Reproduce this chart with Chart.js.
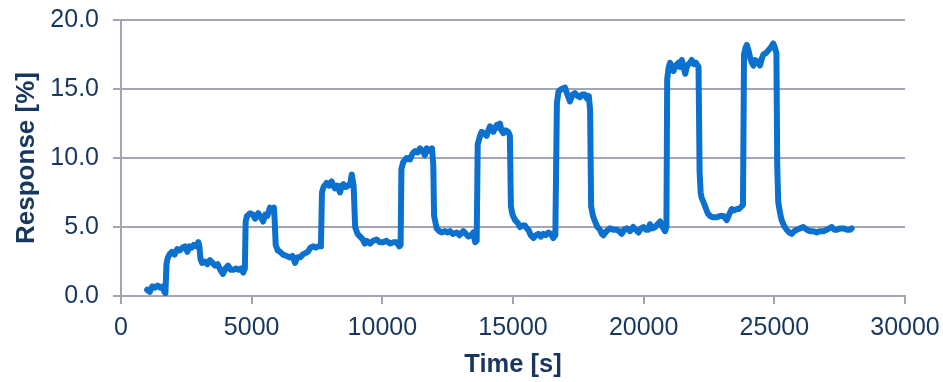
<!DOCTYPE html>
<html>
<head>
<meta charset="utf-8">
<script src="https://cdn.jsdelivr.net/npm/chart.js@4.4.1/dist/chart.umd.min.js"></script>
<style>
  html, body { margin: 0; padding: 0; background: #ffffff; }
  #c { display: block; }
</style>
</head>
<body>
<canvas id="c" width="943" height="382"></canvas>
<script>
// ---- Data ----
const timeSeconds = [
  1000,1100,1200,1300,1400,1500,1600,1660,1700,1740,1780,1850,1950,2050,2150,2250,2350,2450,2540,2620,
  2700,2780,2880,2960,3000,3040,3100,3200,3300,3400,3500,3600,3700,3800,3900,4000,4100,4200,4300,4400,
  4500,4600,4680,4740,4770,4820,4940,5050,5130,5250,5350,5440,5520,5600,5700,5780,5850,5880,5920,6000,
  6090,6200,6340,6450,6560,6660,6750,6850,6950,7050,7150,7250,7350,7450,7550,7650,7690,7750,7870,7960,
  8060,8150,8190,8280,8380,8450,8510,8600,8700,8780,8830,8900,8960,9050,9150,9250,9330,9400,9530,9650,
  9780,9900,10030,10150,10300,10420,10550,10650,10700,10730,10800,10930,11060,11150,11250,11350,11440,11540,11630,11700,
  11760,11850,11900,11950,11980,12080,12180,12270,12400,12500,12590,12700,12850,12950,13100,13200,13290,13400,13480,13550,
  13610,13650,13740,13800,13890,13990,14060,14120,14200,14250,14320,14380,14450,14500,14560,14630,14720,14820,14880,14920,
  14980,15080,15180,15270,15360,15460,15530,15590,15680,15780,15870,15970,16060,16160,16250,16350,16450,16540,16620,16680,
  16740,16850,16990,17080,17180,17280,17370,17470,17560,17650,17750,17830,17900,17950,17990,18060,18140,18230,18330,18400,
  18460,18580,18710,18840,18970,19060,19160,19250,19350,19480,19600,19700,19800,19900,19990,20100,20180,20240,20340,20440,
  20530,20630,20720,20820,20870,20900,20950,21010,21080,21140,21230,21330,21400,21460,21530,21590,21650,21710,21780,21840,
  21920,22000,22100,22140,22180,22220,22290,22350,22450,22540,22650,22800,22920,23050,23180,23270,23370,23460,23560,23650,
  23750,23800,23840,23900,23950,24010,24070,24140,24200,24270,24330,24400,24450,24520,24580,24680,24770,24860,24960,25020,
  25080,25110,25150,25220,25280,25370,25470,25570,25670,25760,25860,25980,26110,26240,26370,26500,26620,26750,26880,27000,
  27100,27200,27300,27390,27520,27650,27780,27900,27960
];
const responsePct = [
  0.45,0.3,0.7,0.6,0.75,0.6,0.7,0.3,0.2,2.3,2.7,3.0,3.2,3.0,3.4,3.3,3.5,3.6,3.2,3.6,
  3.5,3.7,3.6,3.9,3.6,2.7,2.4,2.5,2.3,2.6,2.4,2.2,2.3,1.9,1.6,2.0,2.2,1.9,1.9,2.0,
  1.9,2.0,1.7,2.0,5.4,5.8,6.0,5.9,5.6,6.0,5.7,5.4,5.9,5.8,6.4,6.3,6.4,5.5,3.7,3.3,
  3.2,3.0,2.9,2.8,2.9,2.4,2.8,2.8,3.0,3.1,3.2,3.5,3.6,3.5,3.6,3.6,7.5,7.9,8.2,8.0,
  8.3,7.9,7.8,8.0,7.5,8.0,8.1,7.9,8.0,8.2,8.8,8.0,5.0,4.5,4.3,4.1,3.8,4.0,3.8,4.0,
  4.1,3.9,3.9,4.0,3.8,3.9,3.9,3.6,3.7,9.2,9.7,10.0,9.9,10.3,10.5,10.4,10.7,10.5,10.2,10.7,
  10.6,10.5,10.7,9.5,5.8,4.9,4.7,4.6,4.7,4.6,4.7,4.5,4.6,4.4,4.7,4.5,4.3,4.4,4.6,3.9,
  4.0,11.0,11.6,11.9,11.8,11.6,12.0,12.3,12.1,11.9,12.2,12.4,12.2,12.5,12.0,11.8,12.0,11.9,11.6,6.5,
  5.9,5.5,5.3,5.0,5.1,5.1,4.9,4.8,4.4,4.2,4.4,4.5,4.3,4.5,4.4,4.6,4.5,4.2,4.4,14.0,
  14.8,15.0,15.1,14.6,14.1,14.6,14.7,14.5,14.4,14.6,14.6,14.3,14.5,13.5,6.5,5.8,5.4,5.0,4.8,4.5,
  4.4,4.7,4.9,4.8,4.8,4.7,4.5,4.8,4.9,4.7,5.0,4.8,4.6,4.9,5.0,4.8,4.8,5.2,4.9,5.0,
  5.2,5.4,5.0,4.7,5.0,15.7,16.5,16.9,16.6,16.3,16.7,16.9,16.6,17.1,16.6,16.1,16.6,16.8,16.9,17.1,
  16.8,16.9,16.6,9.0,7.5,7.1,6.8,6.5,6.0,5.8,5.7,5.7,5.8,5.8,5.5,5.9,6.3,6.2,6.3,6.3,
  6.5,6.6,17.5,18.0,18.2,17.8,17.3,16.9,16.7,17.1,16.9,17.0,16.7,17.2,17.5,17.6,17.8,18.0,18.3,18.0,
  17.6,9.5,6.8,6.0,5.5,5.1,4.8,4.6,4.5,4.7,4.8,4.9,5.0,4.8,4.7,4.7,4.6,4.7,4.7,4.8,
  4.9,5.0,4.8,4.8,4.9,4.9,4.8,4.8,4.9
];
const xTickValues = [0, 5000, 10000, 15000, 20000, 25000, 30000];
const yTickValues = [0, 5, 10, 15, 20];
const xAxisTitle = 'Time [s]';
const yAxisTitle = 'Response [%]';

// ---- Styles ----
const TEXT = '#17375E';
const GRID = '#A2A5B3';
const LINE = '#0B70CE';
const FONT = "'Liberation Sans', Arial, sans-serif";

const points = timeSeconds.map((t, i) => ({ x: t, y: responsePct[i] }));

new Chart(document.getElementById('c'), {
  type: 'line',
  data: {
    datasets: [{
      data: points,
      borderColor: LINE,
      borderWidth: 6,
      pointRadius: 0,
      tension: 0,
      fill: false,
      borderJoinStyle: 'round',
      borderCapStyle: 'round'
    }]
  },
  options: {
    responsive: false,
    animation: false,
    parsing: false,
    layout: { padding: { top: 20, right: 38, left: 0, bottom: 0 } },
    plugins: { legend: { display: false }, tooltip: { enabled: false } },
    scales: {
      x: {
        type: 'linear',
        min: 0, max: 30000,
        afterBuildTicks: s => { s.ticks = xTickValues.map(v => ({ value: v })); },
        afterFit: s => { s.height = 86; s.paddingLeft = 0; s.paddingRight = 0; },
        ticks: {
          color: TEXT, font: { family: FONT, size: 25 }, padding: 9,
          maxRotation: 0, autoSkip: false,
          callback: v => String(v)
        },
        grid: { display: true, drawOnChartArea: false, drawTicks: true, tickLength: 8, color: GRID, lineWidth: 2 },
        border: { display: true, color: GRID, width: 2 },
        title: { display: true, text: xAxisTitle, color: TEXT, font: { family: FONT, size: 25.5, weight: 'bold' }, padding: { top: 0, bottom: 2 } }
      },
      y: {
        type: 'linear',
        min: 0, max: 20,
        afterBuildTicks: s => { s.ticks = yTickValues.map(v => ({ value: v })); },
        afterFit: s => { s.width = 121; s.paddingTop = 0; s.paddingBottom = 0; },
        ticks: {
          color: TEXT, font: { family: FONT, size: 25 }, padding: 14,
          callback: v => Number(v).toFixed(1)
        },
        grid: { display: true, drawOnChartArea: true, drawTicks: true, tickLength: 8, color: GRID, lineWidth: 2 },
        border: { display: true, color: GRID, width: 2 },
        title: { display: true, text: yAxisTitle, color: TEXT, font: { family: FONT, size: 26, weight: 'bold' }, padding: { top: 11, bottom: 0 } }
      }
    }
  }
});
</script>
</body>
</html>
